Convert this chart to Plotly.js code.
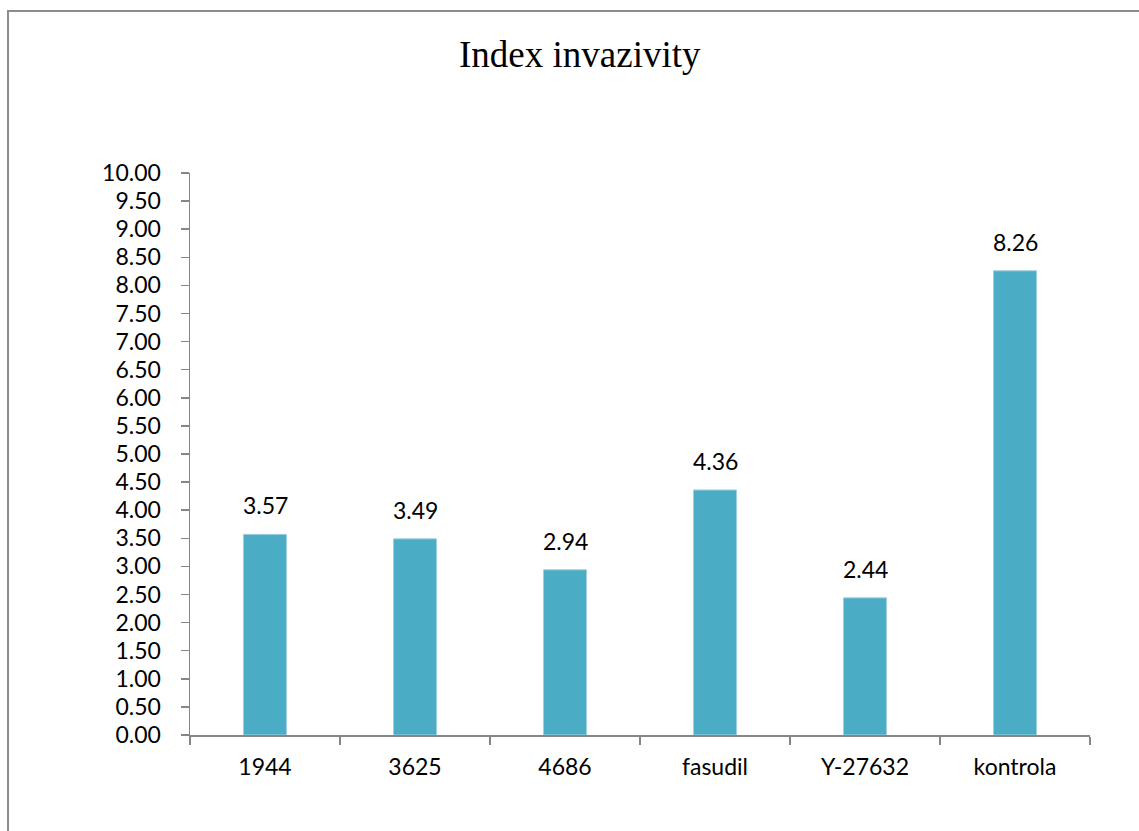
<!DOCTYPE html>
<html>
<head>
<meta charset="utf-8">
<script src="https://cdn.plot.ly/plotly-3.0.1.min.js"></script>
<style>
  html, body { margin: 0; padding: 0; background: #ffffff; }
  #chart { width: 1139px; height: 831px; }
</style>
</head>
<body>
<div id="chart"></div>
<script>
// Invasiveness index per treatment
const categories = ['1944', '3625', '4686', 'fasudil', 'Y-27632', 'kontrola'];
const values = [3.57, 3.49, 2.94, 4.36, 2.44, 8.26];
const yTickValues = [0, 0.5, 1, 1.5, 2, 2.5, 3, 3.5, 4, 4.5, 5, 5.5, 6, 6.5, 7, 7.5, 8, 8.5, 9, 9.5, 10];

const labelFont = { family: 'Lato, "Open Sans", sans-serif', size: 23, color: '#000000' };
const axisGrey = '#868686';

const bars = {
  type: 'bar',
  x: categories,
  y: values,
  marker: { color: '#4BACC6', line: { color: '#9fd0de', width: 1 } },
  hoverinfo: 'x+y'
};

// value labels above each bar (x given as category index)
const valueLabels = categories.map((c, i) => ({
  x: i,
  y: values[i],
  xref: 'x',
  yref: 'y',
  text: values[i].toFixed(2),
  showarrow: false,
  yanchor: 'bottom',
  yshift: 13,
  font: labelFont
}));

const layout = {
  width: 1139,
  height: 831,
  margin: { l: 190, r: 49, t: 173, b: 96 },
  paper_bgcolor: '#ffffff',
  plot_bgcolor: '#ffffff',
  showlegend: false,
  bargap: 0.713,
  title: {
    text: 'Index invazivity',
    font: { family: '"Liberation Serif", "Times New Roman", serif', size: 37, color: '#000000' },
    xref: 'container',
    x: 0.509,
    xanchor: 'center',
    yref: 'container',
    y: 0.935,
    yanchor: 'middle'
  },
  xaxis: {
    type: 'category',
    categoryorder: 'array',
    categoryarray: categories,
    range: [-0.5, categories.length - 0.5],
    autorange: false,
    tickangle: 0,
    showgrid: false,
    zeroline: false,
    showline: true,
    linecolor: axisGrey,
    linewidth: 1.5,
    ticks: 'outside',
    tickson: 'boundaries',
    ticklen: 8,
    tickwidth: 1.5,
    tickcolor: axisGrey,
    tickfont: labelFont,
    ticklabelstandoff: 11
  },
  yaxis: {
    range: [0, 10],
    autorange: false,
    tickmode: 'array',
    tickvals: yTickValues,
    ticktext: yTickValues.map(v => v.toFixed(2)),
    showgrid: false,
    zeroline: false,
    showline: true,
    linecolor: axisGrey,
    linewidth: 1.5,
    ticks: 'outside',
    ticklen: 8,
    tickwidth: 1.5,
    tickcolor: axisGrey,
    tickfont: labelFont,
    ticklabelstandoff: 15
  },
  annotations: valueLabels,
  shapes: [{
    // chart area frame
    type: 'rect',
    xref: 'paper',
    yref: 'paper',
    x0: -0.2022,
    x1: 1.1,
    y0: -0.2,
    y1: 1.2883,
    line: { color: '#8c8c8c', width: 2 },
    fillcolor: 'rgba(0,0,0,0)',
    layer: 'below'
  }]
};

Plotly.newPlot('chart', [bars], layout, { displayModeBar: false, staticPlot: true });
</script>
</body>
</html>
